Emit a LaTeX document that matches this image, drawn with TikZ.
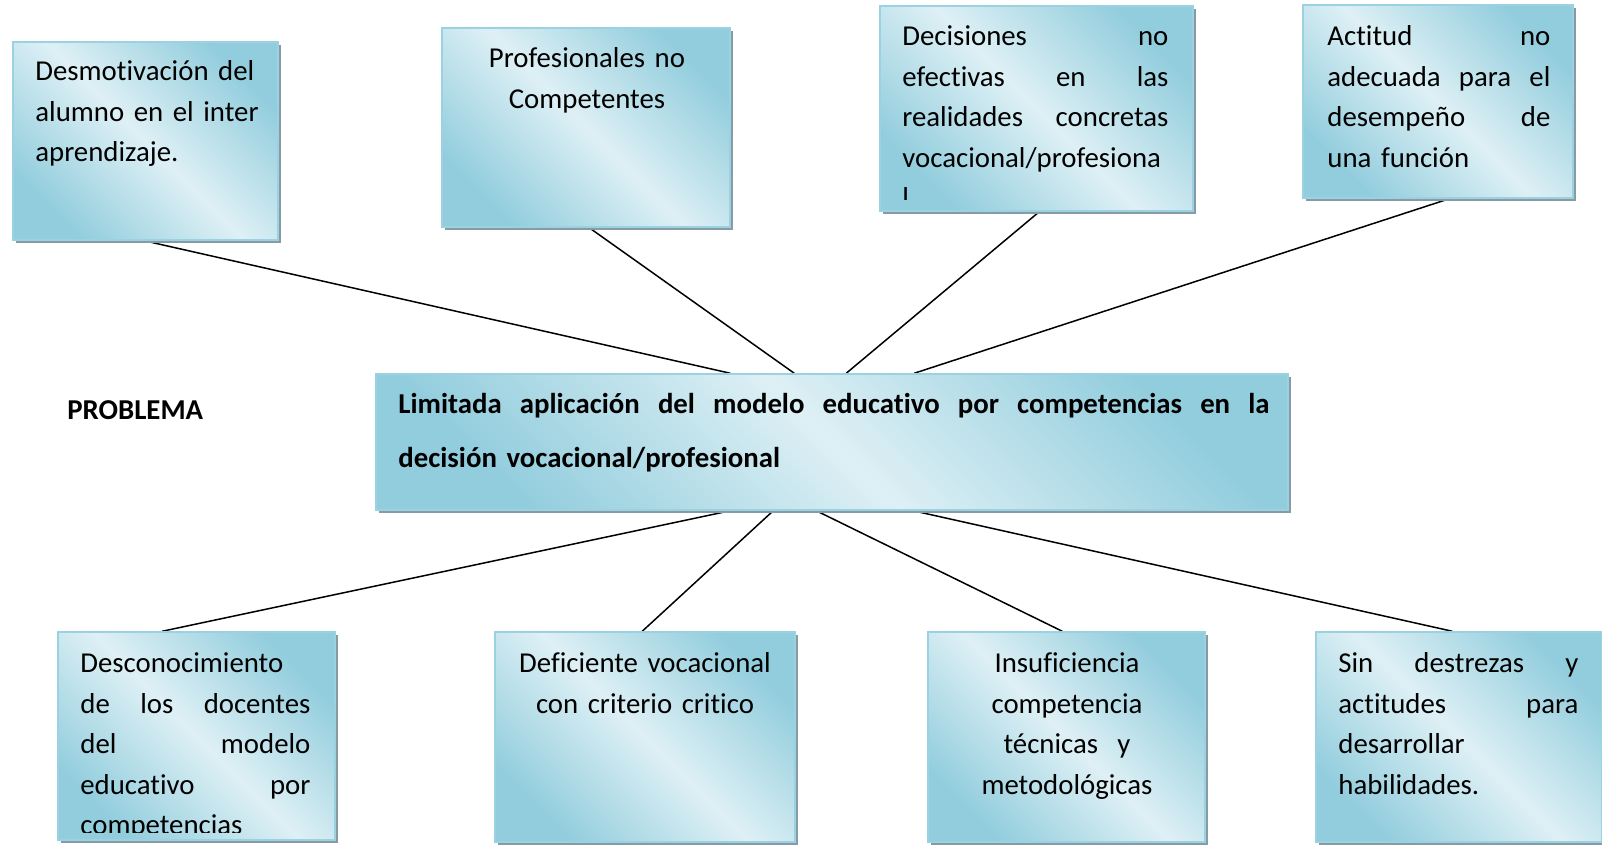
\documentclass[tikz,border=0pt]{standalone}
\usepackage{fontspec}
\setmainfont{Carlito}[Ligatures=NoCommon]
\usetikzlibrary{fit,shadows,calc,backgrounds}
\definecolor{dk}{RGB}{146,205,221}
\definecolor{lt}{RGB}{222,240,245}
\definecolor{bd}{RGB}{155,210,225}
\definecolor{shc}{RGB}{135,155,165}
\newcommand\jl[2]{\leavevmode\hbox to #1{#2}}
\tikzset{
 box/.style={rectangle, inner sep=0pt, draw=bd, line width=0.75pt,
   top color=dk, bottom color=dk, middle color=lt, shading angle=-45,
   drop shadow={shadow xshift=1.5pt, shadow yshift=-1.5pt, fill=shc, opacity=1}},
 txt/.style={inner sep=0pt, font=\fontsize{14.4}{20.3}\selectfont, align=left, anchor=north west},
 ctxt/.style={inner sep=0pt, font=\fontsize{14.4}{20.3}\selectfont, align=center, anchor=north},
 conn/.style={line width=0.75pt, black},
}
\begin{document}
\begin{tikzpicture}[x=0.5pt,y=-0.5pt]
\useasboundingbox (0,0) rectangle (1602,845);
% boxes
\node[box, fit={(13,42) (278,240)}] (b1) {};
\node[box, fit={(442,28) (730,227)}] (b2) {};
\node[box, fit={(880,6) (1193,211)}] (b3) {};
\node[box, fit={(1303,5) (1573,198)}] (b4) {};
\node[box, fit={(376,374) (1288,510)}] (c) {};
\node[box, fit={(58,632) (335,840)}] (u1) {};
\node[box, fit={(495,632) (795,842)}] (u2) {};
\node[box, fit={(928,632) (1205,842)}] (u3) {};
\node[box, fit={(1316,632) (1602,842)}] (u4) {};
% texts
\node[txt, text width=125pt] (t1) at (35,51.6) {\strut Desmotivación del\\alumno en el inter\\aprendizaje.};
\node[ctxt, text width=135pt] (t2) at (587,38.6) {\strut Profesionales no\\Competentes};
\begin{scope}
\clip (b3.north west) rectangle ($(b3.south east)+(0,-12)$);
\node[txt, text width=150pt] (t3) at (902,16.6) {\strut\jl{133pt}{Decisiones\hfill no}\\\jl{133pt}{efectivas\hfill en\hfill las}\\\jl{133pt}{realidades\hfill concretas}\\vocacional/profesiona\\l};
\end{scope}
\node[txt, text width=125pt] (t4) at (1327,16.6) {\strut\jl{111.5pt}{Actitud\hfill no}\\\jl{111.5pt}{adecuada\hfill para\hfill el}\\\jl{111.5pt}{desempeño\hfill de}\\una función};
\node[txt, text width=450pt, font=\fontsize{14.4}{27}\selectfont\bfseries] (tc) at (398,375.2) {\strut\jl{435.5pt}{Limitada\hfill aplicación\hfill del\hfill modelo\hfill educativo\hfill por\hfill competencias\hfill en\hfill la}\\decisión vocacional/profesional};
\node[inner sep=0pt, anchor=base west, font=\fontsize{14.4}{20.3}\selectfont\bfseries] (prob) at (67,420) {PROBLEMA};
\begin{scope}
\clip (u1.north west) rectangle ($(u1.south east)+(0,-8)$);
\node[txt, text width=125pt] (s1) at (80,643.6) {\strut Desconocimiento\\\jl{115pt}{de\hfill los\hfill docentes}\\\jl{115pt}{del\hfill modelo}\\\jl{115pt}{educativo\hfill por}\\competencias};
\end{scope}
\node[ctxt, text width=145pt] (s2) at (645,643.6) {\strut Deficiente vocacional\\con criterio critico};
\node[ctxt, text width=135pt] (s3) at (1067,643.6) {\strut Insuficiencia\\competencia\\técnicas\ \ y\\metodológicas};
\node[txt, text width=130pt] (s4) at (1338,643.6) {\strut\jl{120pt}{Sin\hfill destrezas\hfill y}\\\jl{120pt}{actitudes\hfill para}\\desarrollar\\habilidades.};
% connectors
\begin{scope}[on background layer]
\draw[conn] ($(b1.south west)+(132,0)$) -- ($(c.north west)+(355,0)$);
\draw[conn] ($(b2.south west)+(148,0)$) -- ($(c.north west)+(419,0)$);
\draw[conn] ($(b3.south west)+(160,0)$) -- ($(c.north west)+(471,0)$);
\draw[conn] ($(b4.south west)+(147,0)$) -- ($(c.north west)+(539,0)$);
\draw[conn] ($(c.south west)+(355,0)$) -- ($(u1.north west)+(105,0)$);
\draw[conn] ($(c.south west)+(398,0)$) -- ($(u2.north west)+(148,0)$);
\draw[conn] ($(c.south west)+(441,0)$) -- ($(u3.north west)+(135,0)$);
\draw[conn] ($(c.south west)+(538,0)$) -- ($(u4.north west)+(137,0)$);
\end{scope}
\end{tikzpicture}
\end{document}
